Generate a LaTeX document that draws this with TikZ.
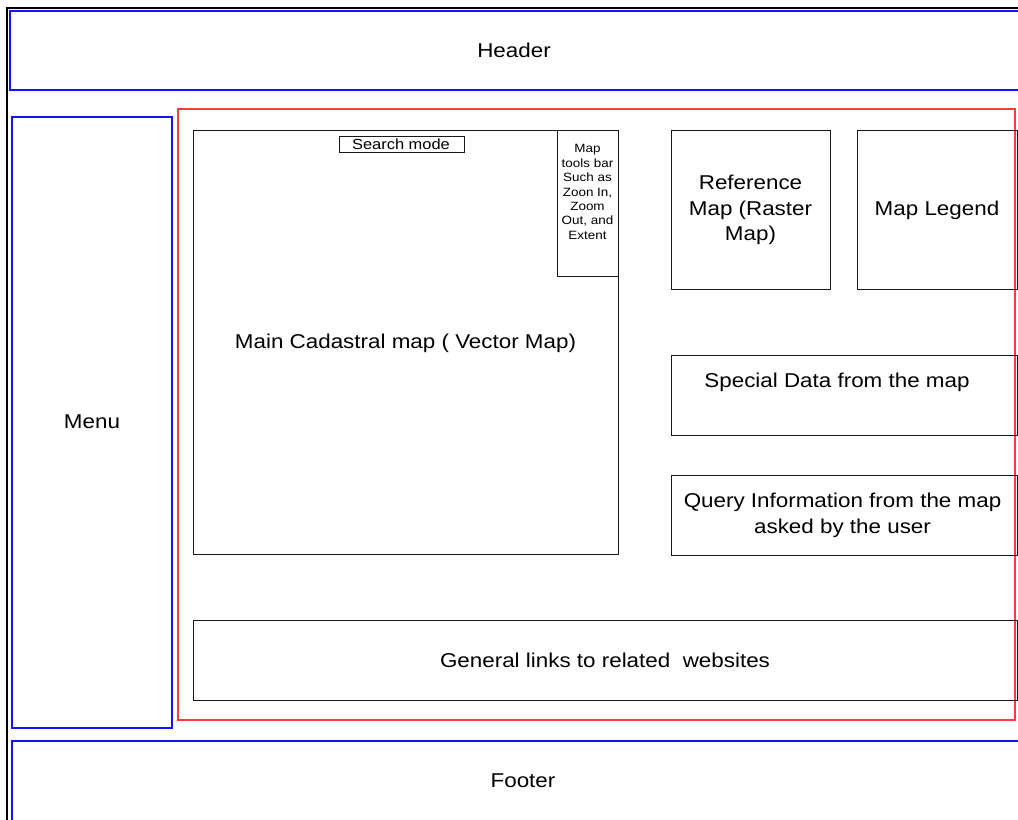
\documentclass[tikz,border=0pt]{standalone}
\usepackage{fontspec}
\setmainfont{Liberation Sans}[FakeStretch=1.12]
\definecolor{frameblue}{RGB}{20,20,255}
\definecolor{framered}{RGB}{255,60,60}
\begin{document}
\begin{tikzpicture}[x=0.75pt,y=-0.75pt,
  lbl/.style={font=\fontsize{15}{19.3}\selectfont, align=center, inner sep=0pt},
  smalllbl/.style={font=\fontsize{9}{10.8}\selectfont, align=center, inner sep=0pt},
  searchlbl/.style={font=\fontsize{11}{13}\selectfont, inner sep=0pt},
  bluebox/.style={draw=frameblue, line width=1.2pt},
  redbox/.style={draw=framered, line width=1pt},
  blackbox/.style={draw=black!90, line width=0.65pt},
  outer/.style={draw=black, line width=1.6pt}]
\useasboundingbox (0,0) rectangle (1018,820);
\clip (0,0) rectangle (1018,820);
% outer frame and page regions
\draw[outer] (7,8) rectangle (1040,840);
\draw[bluebox] (10,11) rectangle (1040,90);
\draw[bluebox] (12,117) rectangle (172,728);
\draw[bluebox] (12,741) rectangle (1040,840);
\draw[redbox] (178,109) rectangle (1015,720);
% content boxes
\draw[blackbox] (193,130) rectangle (618,554);
\draw[blackbox] (339,136) rectangle (464,152);
\draw[blackbox] (557,130) rectangle (618,276);
\draw[blackbox] (671,130) rectangle (830,289);
\draw[blackbox] (857,130) rectangle (1017,289);
\draw[blackbox] (671,355) rectangle (1017,435);
\draw[blackbox] (671,475) rectangle (1017,555);
\draw[blackbox] (193,620) rectangle (1017,700);
% labels
\node[lbl] (header) at (514,50) {Header};
\node[lbl] (menu) at (92,422) {Menu};
\node[lbl] (footer) at (523,781) {Footer};
\node[lbl] (mainmap) at (405.5,343) {Main Cadastral map ( Vector Map)};
\node[searchlbl] (search) at (401,144) {Search mode};
\node[smalllbl] (tools) at (587.5,192) {Map\\tools bar\\Such as\\Zoon In,\\Zoom\\Out, and\\Extent};
\node[lbl] (refmap) at (750.5,210) {Reference\\Map (Raster\\Map)};
\node[lbl] (legend) at (937,210) {Map Legend};
\node[lbl] (special) at (837,382) {Special Data from the map};
\node[lbl] (query) at (842.5,515) {Query Information from the map\\asked by the user};
\node[lbl] (links) at (605,660) {General links to related~ websites};
\end{tikzpicture}
\end{document}
